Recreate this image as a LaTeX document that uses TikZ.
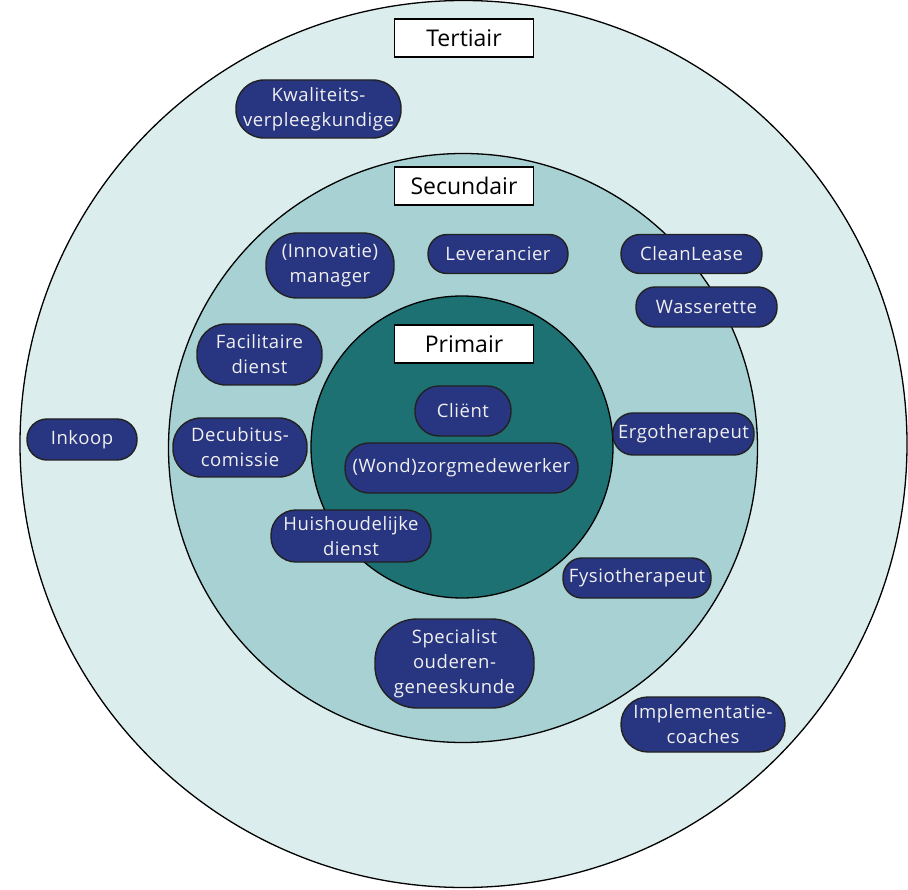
\documentclass[tikz,border=0pt]{standalone}
\usepackage{fontspec}
\setmainfont{Open Sans}
\newfontfamily\pillfont[LetterSpace=3]{Open Sans}
\definecolor{tertcol}{HTML}{DCEDED}
\definecolor{seccol}{HTML}{A7D1D2}
\definecolor{primcol}{HTML}{1E7173}
\definecolor{pillcol}{HTML}{283580}
\definecolor{pilledge}{HTML}{222222}
\begin{document}
\begin{tikzpicture}[x=1pt,y=-1pt,
  ring/.style={circle, draw=black, line width=1.3pt, inner sep=0pt},
  levellabel/.style={draw=black, fill=white, line width=1.4pt, minimum width=139pt, minimum height=38pt, inner sep=0pt, font=\fontsize{23}{28}\selectfont},
  pill/.style={draw=pilledge, fill=pillcol, line width=1.4pt, text=white!94!black, inner sep=0pt, align=center, font=\pillfont\fontsize{18.5}{25}\selectfont},
  pillsize/.style n args={3}{minimum width=#1pt, minimum height=#2pt, rounded corners=#3pt}
]
\useasboundingbox (0,0) rectangle (908,890);
\node[ring, fill=tertcol, minimum size=887pt] (tert) at (463.5,444) {};
\node[ring, fill=seccol, minimum size=589pt] (sec) at (463,448) {};
\node[ring, fill=primcol, minimum size=302pt] (prim) at (462,447) {};

\node[levellabel] (ltert) at (464,38) {Tertiair};
\node[levellabel] (lsec) at (464,186) {Secundair};
\node[levellabel] (lprim) at (464,344) {Primair};

\node[pill, pillsize={165}{58}{28}] (kwal) at (318.5,109) {Kwaliteits-\\verpleegkundige};
\node[pill, pillsize={128}{65}{31}] (innov) at (330,265.5) {(Innovatie)\\manager};
\node[pill, pillsize={140}{39}{19}] (lever) at (498,254) {Leverancier};
\node[pill, pillsize={141}{39}{19}] (clean) at (691.5,254) {CleanLease};
\node[pill, pillsize={141}{40}{19}] (wass) at (706.5,307) {Wasserette};
\node[pill, pillsize={125}{61}{29}] (facil) at (259.5,354.5) {Facilitaire\\dienst};
\node[pill, pillsize={110}{41}{20}] (inkoop) at (82,439.5) {Inkoop};
\node[pill, pillsize={134}{59}{28}] (decub) at (240,447.5) {Decubitus-\\comissie};
\node[pill, pillsize={96}{50}{24}] (client) at (463,411) {Cliënt};
\node[pill, pillsize={233}{50}{24}] (wond) at (461.5,468) {(Wond)zorgmedewerker};
\node[pill, pillsize={141}{42}{20}] (ergo) at (683.5,434) {Ergotherapeut};
\node[pill, pillsize={160}{52}{25}] (huis) at (351,536) {Huishoudelijke\\dienst};
\node[pill, pillsize={148}{40}{19}] (fysio) at (637,578) {Fysiotherapeut};
\node[pill, pillsize={159}{89}{42}] (spec) at (454.5,663.5) {Specialist\\ouderen-\\geneeskunde};
\node[pill, pillsize={164}{55}{27}] (impl) at (703,724.5) {Implementatie-\\coaches};
\end{tikzpicture}
\end{document}
